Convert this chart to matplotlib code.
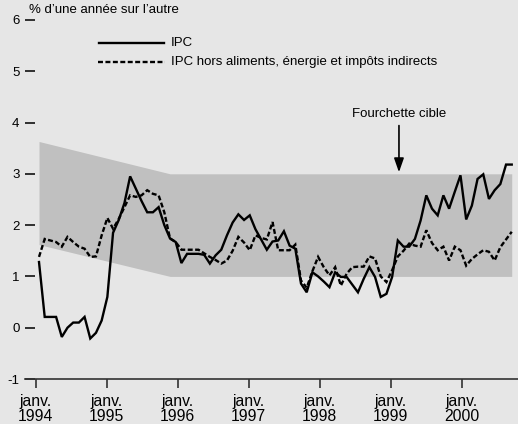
import numpy as np
import matplotlib
matplotlib.use('Agg')
import matplotlib.pyplot as plt
from matplotlib.lines import Line2D

plt.rcParams['font.family'] = ['Liberation Sans', 'DejaVu Sans']

# monthly data, janv. 1994 -> déc. 2000 (index 0..83)
months = np.arange(84)
ipc = [1.28, 0.21, 0.21, 0.21, -0.18, 0.00, 0.10, 0.10, 0.21, -0.21, -0.10, 0.14,
       0.60, 1.85, 2.10, 2.43, 2.95, 2.71, 2.47, 2.25, 2.25, 2.35, 2.00, 1.74,
       1.67, 1.26, 1.44, 1.44, 1.44, 1.42, 1.25, 1.41, 1.52, 1.80, 2.05, 2.21,
       2.10, 2.19, 1.92, 1.72, 1.52, 1.68, 1.70, 1.88, 1.60, 1.54, 0.86, 0.69,
       1.08, 1.00, 0.90, 0.79, 1.08, 0.99, 0.99, 0.84, 0.69, 0.95, 1.18, 0.99,
       0.60, 0.66, 0.99, 1.70, 1.58, 1.58, 1.73, 2.09, 2.58, 2.32, 2.19, 2.58,
       2.32, 2.65, 2.97, 2.11, 2.38, 2.90, 2.99, 2.51, 2.68, 2.80, 3.18, 3.18]
ipc_hors = [1.38, 1.73, 1.70, 1.67, 1.58, 1.77, 1.67, 1.58, 1.54, 1.38, 1.39, 1.80,
            2.14, 1.93, 2.12, 2.35, 2.58, 2.55, 2.58, 2.68, 2.61, 2.58, 2.25, 1.74,
            1.67, 1.52, 1.52, 1.52, 1.52, 1.45, 1.38, 1.32, 1.25, 1.31, 1.50, 1.77,
            1.66, 1.51, 1.80, 1.75, 1.72, 2.06, 1.51, 1.51, 1.51, 1.62, 0.92, 0.78,
            1.10, 1.38, 1.18, 1.02, 1.18, 0.82, 1.05, 1.18, 1.19, 1.19, 1.39, 1.35,
            1.00, 0.89, 1.12, 1.39, 1.50, 1.64, 1.60, 1.58, 1.90, 1.65, 1.51, 1.58,
            1.31, 1.58, 1.51, 1.21, 1.34, 1.43, 1.51, 1.48, 1.31, 1.57, 1.72, 1.87]

# target band (fourchette cible)
band_x = [0, 23, 83]
band_lo = [1.62, 1.0, 1.0]
band_hi = [3.63, 3.0, 3.0]

years = ['1994', '1995', '1996', '1997', '1998', '1999', '2000']
yvals = [-1, 0, 1, 2, 3, 4, 5, 6]

bg = '#e6e6e6'
fig = plt.figure(figsize=(5.18, 4.24), dpi=100, facecolor=bg)
ax = fig.add_axes([25/518, 45/424, 493/518, 374/424])
ax.set_facecolor('none')

ax.fill_between(band_x, band_lo, band_hi, color='#c0c0c0', lw=0)
ax.plot(months, ipc, color='k', lw=1.7, solid_joinstyle='miter')
ax.plot(months, ipc_hors, color='k', lw=1.7, ls=(0, (2.1, 1.05)),
        dash_joinstyle='miter', dash_capstyle='butt')

ax.set_xlim(-2.46, 84.1)
ax.set_ylim(-1, -1 + 374/51.3)

# the "janv." ticks of the original sit a bit wider apart than 12 months of data
ax.set_xticks(np.arange(7) * 12.47 - 0.58)
ax.set_xticklabels(['janv.\n' + y for y in years], fontsize=11.3, linespacing=1.0)
ax.set_yticks(yvals)
ax.set_yticklabels([str(v) for v in yvals], fontsize=9.5)

ax.tick_params(axis='x', direction='out', length=6.5, width=1.2, pad=4, color='#333333')
ax.tick_params(axis='y', direction='in', length=7.5, width=1.2, pad=4, color='#111111')
for s in ['top', 'right', 'left']:
    ax.spines[s].set_visible(False)
ax.spines['bottom'].set_linewidth(1.2)
ax.spines['bottom'].set_color('#333333')

fig.text(29/518, 1 - 10/424, '% d’une année sur l’autre', fontsize=9.5, va='center')

# legend
fig.add_artist(Line2D([99/518, 164/518], [1 - 43/424] * 2, color='k', lw=1.7,
                      transform=fig.transFigure))
fig.add_artist(Line2D([98/518, 165/518], [1 - 62/424] * 2, color='k', lw=1.7,
                      ls=(0, (2.1, 1.05)), transform=fig.transFigure))
fig.text(171/518, 1 - 43/424, 'IPC', fontsize=9.5, va='center')
fig.text(171/518, 1 - 62/424, 'IPC hors aliments, énergie et impôts indirects',
         fontsize=9.5, va='center')

# annotation for the band
ax.text(63.2, 4.16, 'Fourchette cible', fontsize=9.5, ha='center', va='center')
ax.annotate('', xy=(63.2, 3.03), xytext=(63.2, 3.94),
            arrowprops=dict(arrowstyle='-|>,head_length=0.4,head_width=0.14',
                            mutation_scale=21, lw=1.2, color='k',
                            shrinkA=0, shrinkB=0))

fig.savefig('out.png', dpi=100, facecolor=bg)
